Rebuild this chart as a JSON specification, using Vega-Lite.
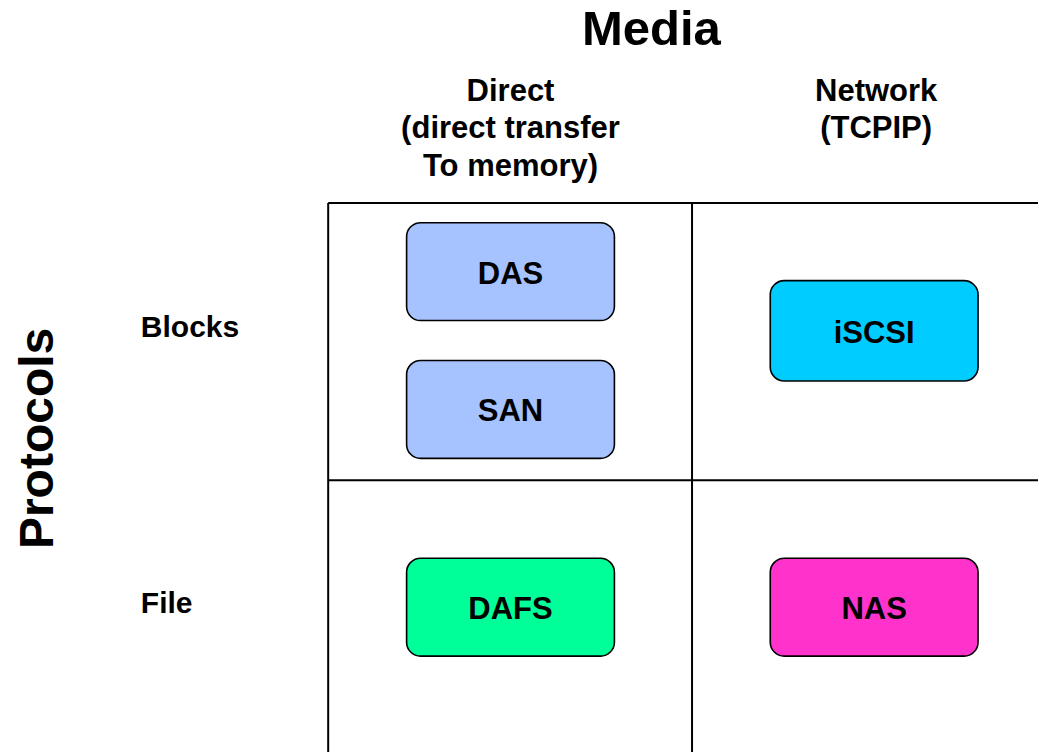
{
  "$schema": "https://vega.github.io/schema/vega-lite/v6.json",
  "width": 1039,
  "height": 753,
  "autosize": {"type": "fit", "contains": "padding"},
  "padding": 0,
  "background": "white",
  "config": {"view": {"stroke": null}, "font": "Liberation Sans"},
  "datasets": {
    "lines": [
      {"x1": 328.5, "y1": 203.3, "x2": 1039, "y2": 203.3},
      {"x1": 328.5, "y1": 481, "x2": 1039, "y2": 481},
      {"x1": 328.5, "y1": 203.3, "x2": 328.5, "y2": 753},
      {"x1": 692.7, "y1": 203.3, "x2": 692.7, "y2": 753}
    ],
    "boxes": [
      {"name": "DAS", "group": "Direct blocks", "x1": 407, "x2": 615, "cx": 511, "y1": 223, "y2": 321, "ty": 284},
      {"name": "SAN", "group": "Direct blocks", "x1": 407, "x2": 615, "cx": 511, "y1": 361, "y2": 459, "ty": 422},
      {"name": "iSCSI", "group": "Network blocks", "x1": 771, "x2": 979, "cx": 875, "y1": 281, "y2": 381.5, "ty": 343},
      {"name": "DAFS", "group": "Direct file", "x1": 407, "x2": 615, "cx": 511, "y1": 559, "y2": 657, "ty": 620},
      {"name": "NAS", "group": "Network file", "x1": 771, "x2": 979, "cx": 875, "y1": 559, "y2": 657, "ty": 620}
    ],
    "columns": [
      {"label": "Direct\n(direct transfer\nTo memory)", "x": 511, "y": 101},
      {"label": "Network\n(TCPIP)", "x": 877, "y": 101}
    ],
    "rows": [
      {"label": "Blocks", "x": 141, "y": 337},
      {"label": "File", "x": 141, "y": 614}
    ],
    "titles": [
      {"label": "Media", "x": 652, "y": 45}
    ],
    "sidetitles": [
      {"label": "Protocols", "x": 53, "y": 439}
    ]
  },
  "layer": [
    {
      "data": {"name": "lines"},
      "mark": {"type": "rule", "stroke": "#000000", "strokeWidth": 2},
      "encoding": {
        "x": {"field": "x1", "type": "quantitative", "scale": {"domain": [0, 1039], "nice": false, "zero": false}, "axis": null},
        "x2": {"field": "x2"},
        "y": {"field": "y1", "type": "quantitative", "scale": {"domain": [0, 753], "nice": false, "zero": false, "reverse": true}, "axis": null},
        "y2": {"field": "y2"}
      }
    },
    {
      "data": {"name": "boxes"},
      "mark": {"type": "rect", "cornerRadius": 14, "stroke": "#000000", "strokeWidth": 1.6},
      "encoding": {
        "x": {"field": "x1", "type": "quantitative", "scale": {"domain": [0, 1039], "nice": false, "zero": false}, "axis": null},
        "x2": {"field": "x2"},
        "y": {"field": "y1", "type": "quantitative", "scale": {"domain": [0, 753], "nice": false, "zero": false, "reverse": true}, "axis": null},
        "y2": {"field": "y2"},
        "fill": {
          "field": "group", "type": "nominal", "legend": null,
          "scale": {"domain": ["Direct blocks", "Network blocks", "Direct file", "Network file"], "range": ["#A6C2FF", "#00CCFF", "#00FF99", "#FF33CC"]}
        }
      }
    },
    {
      "data": {"name": "boxes"},
      "mark": {"type": "text", "fontSize": 31, "fontWeight": "bold", "align": "center", "baseline": "alphabetic", "color": "#000000"},
      "encoding": {
        "x": {"field": "cx", "type": "quantitative", "scale": {"domain": [0, 1039], "nice": false, "zero": false}, "axis": null},
        "y": {"field": "ty", "type": "quantitative", "scale": {"domain": [0, 753], "nice": false, "zero": false, "reverse": true}, "axis": null},
        "text": {"field": "name"}
      }
    },
    {
      "data": {"name": "columns"},
      "mark": {"type": "text", "fontSize": 31, "fontWeight": "bold", "align": "center", "baseline": "alphabetic", "lineBreak": "\n", "lineHeight": 37.5, "color": "#000000"},
      "encoding": {
        "x": {"field": "x", "type": "quantitative", "scale": {"domain": [0, 1039], "nice": false, "zero": false}, "axis": null},
        "y": {"field": "y", "type": "quantitative", "scale": {"domain": [0, 753], "nice": false, "zero": false, "reverse": true}, "axis": null},
        "text": {"field": "label"}
      }
    },
    {
      "data": {"name": "rows"},
      "mark": {"type": "text", "fontSize": 30, "fontWeight": "bold", "align": "left", "baseline": "alphabetic", "color": "#000000"},
      "encoding": {
        "x": {"field": "x", "type": "quantitative", "scale": {"domain": [0, 1039], "nice": false, "zero": false}, "axis": null},
        "y": {"field": "y", "type": "quantitative", "scale": {"domain": [0, 753], "nice": false, "zero": false, "reverse": true}, "axis": null},
        "text": {"field": "label"}
      }
    },
    {
      "data": {"name": "titles"},
      "mark": {"type": "text", "fontSize": 49, "fontWeight": "bold", "align": "center", "baseline": "alphabetic", "color": "#000000"},
      "encoding": {
        "x": {"field": "x", "type": "quantitative", "scale": {"domain": [0, 1039], "nice": false, "zero": false}, "axis": null},
        "y": {"field": "y", "type": "quantitative", "scale": {"domain": [0, 753], "nice": false, "zero": false, "reverse": true}, "axis": null},
        "text": {"field": "label"}
      }
    },
    {
      "data": {"name": "sidetitles"},
      "mark": {"type": "text", "fontSize": 48, "fontWeight": "bold", "align": "center", "baseline": "alphabetic", "angle": 270, "color": "#000000"},
      "encoding": {
        "x": {"field": "x", "type": "quantitative", "scale": {"domain": [0, 1039], "nice": false, "zero": false}, "axis": null},
        "y": {"field": "y", "type": "quantitative", "scale": {"domain": [0, 753], "nice": false, "zero": false, "reverse": true}, "axis": null},
        "text": {"field": "label"}
      }
    }
  ]
}
